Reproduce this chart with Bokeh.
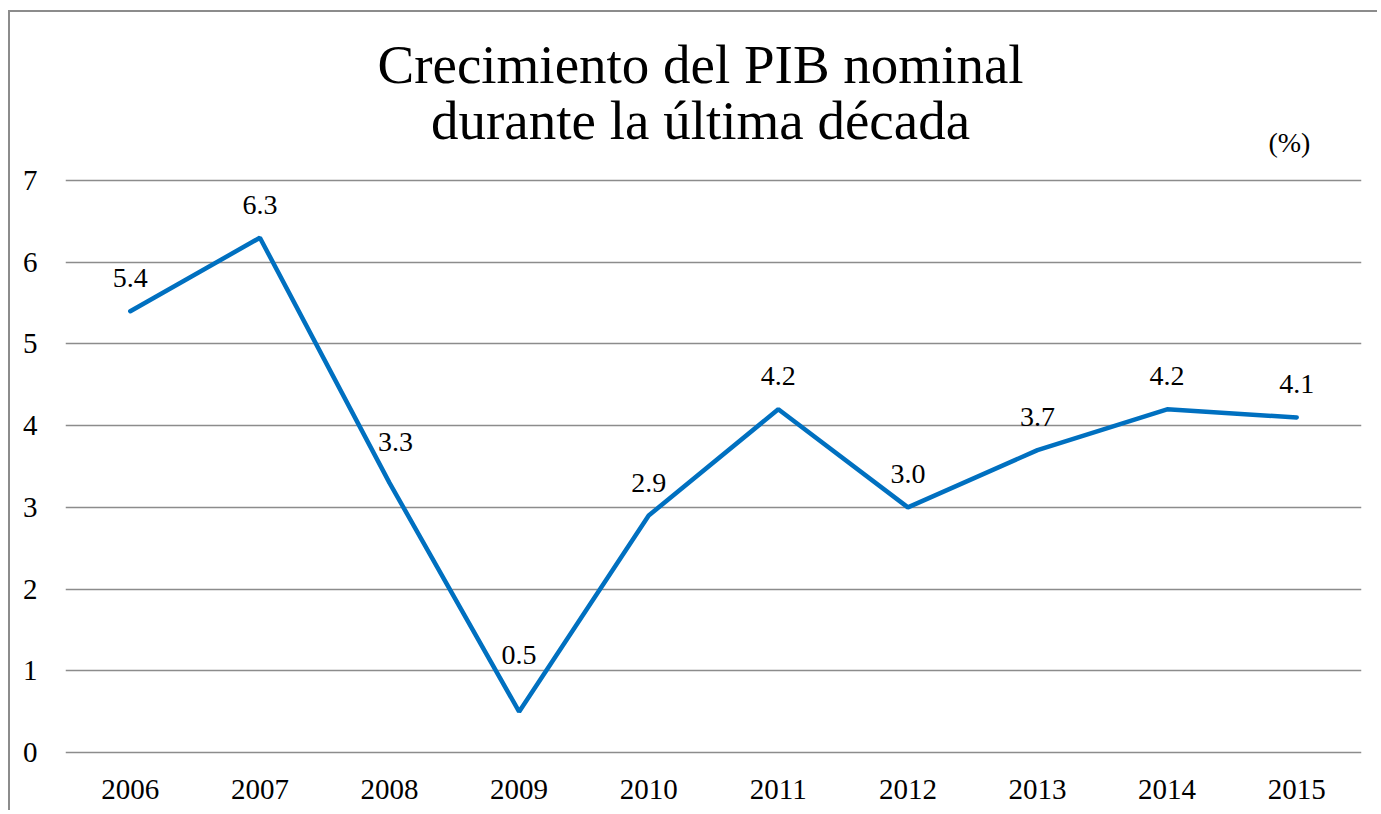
from bokeh.plotting import figure
from bokeh.models import (ColumnDataSource, FactorRange, Range1d, FixedTicker,
                          Label, LabelSet)
from bokeh.embed import file_html
from bokeh.resources import INLINE

# ---- data ----
years = ["2006", "2007", "2008", "2009", "2010", "2011", "2012", "2013", "2014", "2015"]
growth = [5.4, 6.3, 3.3, 0.5, 2.9, 4.2, 3.0, 3.7, 4.2, 4.1]
value_labels = ["5.4", "6.3", "3.3", "0.5", "2.9", "4.2", "3.0", "3.7", "4.2", "4.1"]
y_ticks = [0, 1, 2, 3, 4, 5, 6, 7]
title_line1 = "Crecimiento del PIB nominal"
title_line2 = "durante la última década"
unit_text = "(%)"

# label placement (style, pixels)
label_dx = [0, 0, 6, 0, 0, 0, 0, 0, 0, 0]
label_dy = [24, 24, 32, 48, 24, 24, 24, 24, 24, 24]

FONT = "Liberation Serif"
BLUE = "#0070C0"
GRID = "#8c8c8c"

src = ColumnDataSource(dict(x=years, y=growth, t=value_labels, dx=label_dx, dy=label_dy))

# frame spans from the top of the chart area down to just below the 0 line,
# so that the titles (drawn as labels) stay inside the frame
p = figure(width=1369, height=800, x_range=FactorRange(*years),
           y_range=Range1d(-0.049, 9.056),
           output_backend="svg", toolbar_location=None, title=None,
           min_border_left=55, min_border_right=18, min_border_top=0, min_border_bottom=56)
p.x_range.range_padding = 0
p.styles = {"margin-left": "8px", "margin-top": "10px",
            "border-left": "2px solid #8c8c8c", "border-top": "2px solid #8c8c8c"}

p.outline_line_color = None
p.background_fill_color = "white"
p.border_fill_color = "white"

p.xgrid.grid_line_color = None
p.ygrid.grid_line_color = GRID
p.ygrid.grid_line_width = 1.6
p.yaxis.ticker = FixedTicker(ticks=y_ticks)

for ax in (p.xaxis, p.yaxis):
    ax.axis_line_color = None
    ax.major_tick_line_color = None
    ax.minor_tick_line_color = None
    ax.major_label_text_font = FONT
    ax.major_label_text_font_size = "29px"
    ax.major_label_text_color = "black"
p.yaxis.major_label_standoff = 22
p.xaxis.major_label_standoff = 17

p.line(x="x", y="y", source=src, line_color=BLUE, line_width=4.5, line_cap="round")

labels = LabelSet(x="x", y="y", text="t", source=src, x_offset="dx", y_offset="dy",
                  text_align="center", text_baseline="alphabetic",
                  text_font=FONT, text_font_size="28px", text_color="black")
p.add_layout(labels)

p.add_layout(Label(x=4.9, y=8.42, text=title_line1, text_align="center",
                   text_baseline="alphabetic", text_font=FONT, text_font_size="55px",
                   text_color="black"))
p.add_layout(Label(x=4.9, y=7.734, text=title_line2, text_align="center",
                   text_baseline="alphabetic", text_font=FONT, text_font_size="55px",
                   text_color="black"))
p.add_layout(Label(x=9.444, y=7.467, text=unit_text, text_align="center",
                   text_baseline="alphabetic", text_font=FONT, text_font_size="28px",
                   text_color="black"))

open("out.html", "w").write(file_html(p, INLINE))
